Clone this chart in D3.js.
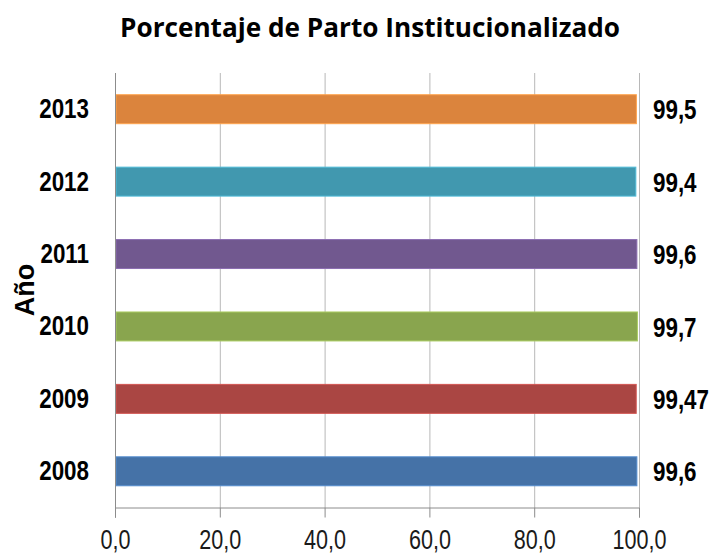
<!DOCTYPE html>
<html>
<head>
<meta charset="utf-8">
<script src="https://cdn.jsdelivr.net/npm/d3@7"></script>
<style>
  body { margin: 0; background: #fff; }
  .narrow { font-family: "Liberation Sans", Arial, sans-serif; }
</style>
</head>
<body>
<div class="chart"></div>
<script>
// data
var years = ["2008", "2009", "2010", "2011", "2012", "2013"];
var values = [99.6, 99.47, 99.7, 99.6, 99.4, 99.5];
var valueLabels = ["99,6", "99,47", "99,7", "99,6", "99,4", "99,5"];
var barColors = ["#4572A7", "#AA4643", "#89A54E", "#71588F", "#4198AF", "#DB843D"];
var xTicks = [0, 20, 40, 60, 80, 100];

var svgWidth = 712;
var svgHeight = 554;

// plot area
var plotLeft = 115, plotRight = 639, plotTop = 73, plotBottom = 507.5;

var svg = d3.select(".chart")
  .append("svg")
  .attr("width", svgWidth)
  .attr("height", svgHeight);

var data = years.map(function(y, i) {
  return { year: y, value: values[i], label: valueLabels[i], color: barColors[i] };
});

var xScale = d3.scaleLinear().domain([0, 100]).range([plotLeft, plotRight]);
var yScale = d3.scaleBand()
  .domain(years.slice().reverse())
  .range([plotTop, plotBottom])
  .paddingInner(0.6)
  .paddingOuter(0.3);

// no narrow font installed, so squeeze the text horizontally with a scale
function squeeze(sel, k) {
  sel.each(function() {
    var t = d3.select(this);
    var x = +t.attr("x") || 0;
    var tr = t.attr("transform") || "";
    t.attr("x", x / k).attr("transform", (tr + " scale(" + k + ",1)").trim());
  });
}

// title
svg.append("text")
  .attr("x", 370)
  .attr("y", 37)
  .attr("text-anchor", "middle")
  .attr("textLength", 500)
  .attr("lengthAdjust", "spacingAndGlyphs")
  .style("font-family", "'Open Sans', 'Noto Sans', sans-serif")
  .style("font-weight", "bold")
  .style("font-size", "27px")
  .text("Porcentaje de Parto Institucionalizado");

// vertical gridlines
svg.append("g")
  .selectAll("line")
  .data(xTicks.slice(1))
  .enter()
  .append("line")
  .attr("x1", function(d) { return xScale(d) + 0.5; })
  .attr("x2", function(d) { return xScale(d) + 0.5; })
  .attr("y1", plotTop)
  .attr("y2", plotBottom)
  .attr("stroke", "#b8b8b8")
  .attr("stroke-width", 1);

// bars
svg.append("g")
  .selectAll("rect")
  .data(data)
  .enter()
  .append("rect")
  .attr("x", xScale(0) + 1)
  .attr("y", function(d) { return yScale(d.year); })
  .attr("width", function(d) { return xScale(d.value) - xScale(0) - 1; })
  .attr("height", yScale.bandwidth())
  .attr("fill", function(d) { return d.color; })
  .attr("stroke", function(d) { return d3.color(d.color).brighter(0.6); })
  .attr("stroke-width", 1);

// bottom axis
var bottomAxis = d3.axisBottom(xScale)
  .tickValues(xTicks)
  .tickSize(10)
  .tickPadding(12)
  .tickFormat(function(d) { return d.toFixed(1).replace(".", ","); });

var xAxisG = svg.append("g")
  .attr("transform", "translate(0," + plotBottom + ")")
  .call(bottomAxis);
xAxisG.select(".domain").attr("stroke", "#8c8c8c");
xAxisG.selectAll(".tick line").attr("stroke", "#8c8c8c");
xAxisG.selectAll("text")
  .attr("class", "narrow")
  .style("font-size", "27px")
  .attr("fill", "#1a1a1a")
  .call(squeeze, 0.8);

// left axis line
svg.append("line")
  .attr("x1", plotLeft + 0.5)
  .attr("x2", plotLeft + 0.5)
  .attr("y1", plotTop)
  .attr("y2", plotBottom + 10)
  .attr("stroke", "#8c8c8c");

// year labels
var leftAxis = d3.axisLeft(yScale).tickSize(0).tickPadding(26);
var yAxisG = svg.append("g")
  .attr("transform", "translate(" + plotLeft + ",0)")
  .call(leftAxis);
yAxisG.select(".domain").remove();
yAxisG.selectAll("text")
  .attr("class", "narrow")
  .style("font-size", "28px")
  .style("font-weight", "bold")
  .attr("fill", "#000")
  .call(squeeze, 0.8);

// value labels
svg.append("g")
  .selectAll("text")
  .data(data)
  .enter()
  .append("text")
  .attr("class", "narrow")
  .attr("x", 653)
  .attr("y", function(d) { return yScale(d.year) + yScale.bandwidth() / 2; })
  .attr("dy", "0.36em")
  .style("font-size", "28px")
  .style("font-weight", "bold")
  .text(function(d) { return d.label; })
  .call(squeeze, 0.8);

// y-axis title
svg.append("text")
  .attr("class", "narrow")
  .attr("transform", "translate(34,290) rotate(-90)")
  .attr("text-anchor", "middle")
  .style("font-size", "27px")
  .style("font-weight", "bold")
  .text("Año");
</script>
</body>
</html>
